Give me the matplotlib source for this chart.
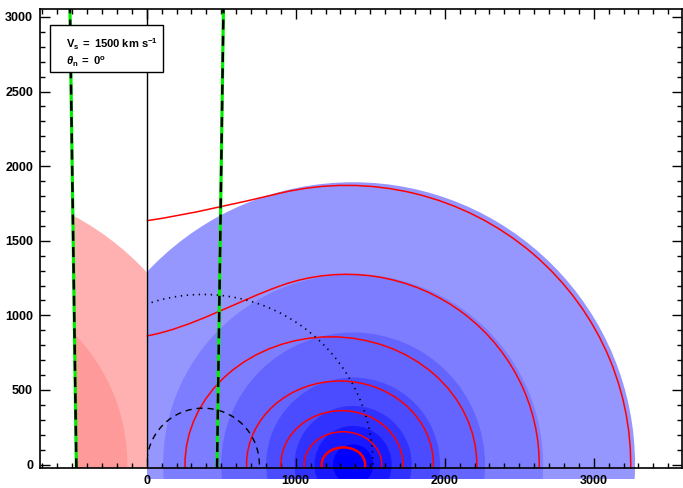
import numpy as np
import matplotlib
matplotlib.use("Agg")
import matplotlib.pyplot as plt
from matplotlib.patches import Circle, Ellipse, Arc, Rectangle, Polygon, PathPatch
from matplotlib.path import Path

plt.rcParams['font.family'] = ['Liberation Sans', 'DejaVu Sans']
plt.rcParams['mathtext.fontset'] = 'custom'
plt.rcParams['mathtext.rm'] = 'Liberation Sans:bold'
plt.rcParams['mathtext.it'] = 'Liberation Sans:bold:italic'
plt.rcParams['mathtext.bf'] = 'Liberation Sans:bold'

# filled bands (blue, x>0) and their mirror (pink, x<0)
BLUE_CX = 1385
BLUE_R = [1892, 1275, 885, 583, 393, 259, 135]
BLUE_COLORS = ['#9696ff', '#7d7dff', '#6464ff', '#4b4bff', '#3232ff', '#1919ff', '#0000ff']
PINK_CX = -1385
PINK_R = [1892, 1255]
PINK_COLORS = ['#ffb0b0', '#ff9a9a']

# closed red fronts: centre x, half width, height
RED_CX = [1320, 1317, 1310, 1297, 1236]
RED_A = [146, 260, 409, 627, 979]
RED_B = [115, 220, 361, 560, 856]

# open red fronts: ellipse part + bent part reaching x=0
OPEN_CX = [1340, 1342]
OPEN_A = [1294, 1906]
OPEN_B = [1275, 1871]
OPEN_X0_Y = [862, 1634]       # height at x=0
OPEN_X0_SLOPE = [0.18, 0.15]
OPEN_JOIN = [(900, 1199), (900, 1820)]
OPEN_JOIN_SLOPE = [0.356, 0.234]

# green/black boundary lines
GREEN_Y = [-25, 3060]
GREEN_X = [472, 515]

# black dashed / dotted circles
DASH_CX, DASH_R = 378, 378
DOT_CX, DOT_R = 378, 1140

fig = plt.figure(figsize=(6.83, 4.88), dpi=100)
ax = fig.add_axes([40 / 683, 1 - 467.7 / 488, 642 / 683, 458.7 / 488])
ax.set_xlim(-716, 3592)
ax.set_ylim(-21, 3053)

right_clip = Rectangle((0, -100), 5000, 5000, transform=ax.transData)
for r, c in zip(BLUE_R, BLUE_COLORS):
    p = Circle((BLUE_CX, 0), r, fc=c, ec='none', zorder=1)
    ax.add_patch(p)
    p.set_clip_path(right_clip)

pink_clip = Polygon([(-GREEN_X[0], GREEN_Y[0]), (-GREEN_X[1], GREEN_Y[1]),
                     (0, GREEN_Y[1]), (0, GREEN_Y[0])], transform=ax.transData)
for r, c in zip(PINK_R, PINK_COLORS):
    p = Circle((PINK_CX, 0), r, fc=c, ec='none', zorder=1)
    ax.add_patch(p)
    p.set_clip_path(pink_clip)

for i, (cx, a, b) in enumerate(zip(RED_CX, RED_A, RED_B)):
    ax.add_patch(Ellipse((cx, 0), 2 * a, 2 * b, fill=False, ec='red',
                         lw=1.8 if i == 0 else 1.1, zorder=3))

for cx, a, b, y0, s0, (xj, yj), sj in zip(OPEN_CX, OPEN_A, OPEN_B, OPEN_X0_Y,
                                           OPEN_X0_SLOPE, OPEN_JOIN, OPEN_JOIN_SLOPE):
    t2 = np.degrees(np.arctan2(yj, xj - cx))
    ax.add_patch(Arc((cx, 0), 2 * a, 2 * b, theta1=-5, theta2=t2, ec='red', lw=1.1, zorder=3))
    d = xj / 3
    verts = [(0, y0), (d, y0 + s0 * d), (xj - d, yj - sj * d), (xj, yj)]
    path = Path(verts, [Path.MOVETO, Path.CURVE4, Path.CURVE4, Path.CURVE4])
    ax.add_patch(PathPatch(path, fill=False, ec='red', lw=1.1, zorder=3))

for cx, r, lw, ls in [(DASH_CX, DASH_R, 1.0, (0, (4.5, 3.5))),
                      (DOT_CX, DOT_R, 1.2, (0, (0.8, 2.8)))]:
    p = Arc((cx, 0), 2 * r, 2 * r, theta1=0, theta2=180, ec='black', lw=lw, ls=ls, zorder=3)
    ax.add_patch(p)
    p.set_clip_path(right_clip)

ax.plot([0, 0], [0, 3100], color='black', lw=1.0, zorder=4)

for sgn in (-1, 1):
    gx = [sgn * v for v in GREEN_X]
    ax.plot(gx, GREEN_Y, color='#00ee00', lw=2.3, zorder=5, solid_capstyle='butt')
    ax.plot(gx, GREEN_Y, color='black', lw=1.8, ls=(0, (4, 2.5)), zorder=6)

# label box
box = Rectangle((50 / 683, 1 - 71.7 / 488), 113.3 / 683, 46.7 / 488, transform=fig.transFigure,
                fc='white', ec='black', lw=1.0, zorder=10)
fig.patches.append(box)
fig.text(66 / 683, 1 - 44 / 488, r'V$_{\mathbf{s}}$ $\,$=$\,$ 1500 km s$^{\mathbf{-1}}$',
         fontsize=8, fontweight='bold', va='center', zorder=11)
fig.text(66 / 683, 1 - 61.5 / 488, r'$\theta_{\mathbf{n}}$ $\,$=$\,$ 0$^{\mathbf{o}}$',
         fontsize=8, fontweight='bold', va='center', zorder=11)

ax.set_xticks([0, 1000, 2000, 3000])
ax.set_xticks(np.arange(-700, 3600, 100), minor=True)
ax.set_yticks(np.arange(0, 3001, 500))
ax.set_yticks(np.arange(0, 3001, 100), minor=True)
ax.tick_params(which='both', direction='in', top=True, right=True, width=1.0)
ax.tick_params(which='major', length=7, labelsize=9, pad=5)
ax.tick_params(which='minor', length=3.5)
for lab in ax.get_xticklabels() + ax.get_yticklabels():
    lab.set_fontweight('bold')
for sp in ax.spines.values():
    sp.set_linewidth(1.2)
    sp.set_zorder(7)

fig.savefig('out.png', dpi=100)
